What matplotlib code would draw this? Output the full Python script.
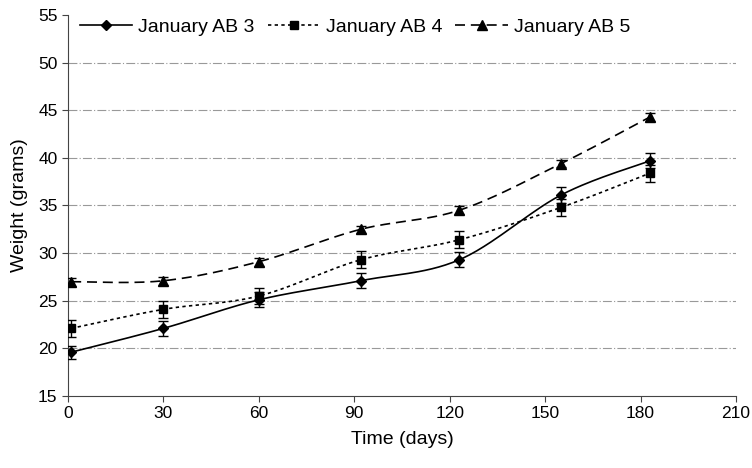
import numpy as np
import matplotlib
matplotlib.use("Agg")
import matplotlib.pyplot as plt
from matplotlib.lines import Line2D

plt.rcParams['font.family'] = ['Liberation Sans', 'DejaVu Sans']

days = [1, 30, 60, 92, 123, 155, 183]
ab3 = [19.6, 22.1, 25.1, 27.1, 29.3, 36.1, 39.7]
ab3_err = [0.7, 0.8, 0.8, 0.8, 0.8, 0.8, 0.8]
ab4 = [22.1, 24.1, 25.5, 29.3, 31.4, 34.8, 38.4]
ab4_err = [0.9, 0.9, 0.8, 0.9, 0.9, 0.9, 0.9]
ab5 = [27.0, 27.1, 29.1, 32.5, 34.5, 39.4, 44.3]
ab5_err = [0.4, 0.4, 0.4, 0.4, 0.4, 0.4, 0.4]
labels = ['January AB 3', 'January AB 4', 'January AB 5']
grid_levels = [20, 25, 30, 35, 40, 45, 50]


def smooth(x, y, n=30):
    x = np.asarray(x, float); y = np.asarray(y, float)
    px = np.concatenate([[x[0]], x, [x[-1]]])
    py = np.concatenate([[y[0]], y, [y[-1]]])
    xs, ys = [], []
    t = np.linspace(0, 1, n)
    for i in range(1, len(px) - 2):
        p0 = np.array([px[i], py[i]]); p3 = np.array([px[i + 1], py[i + 1]])
        c1 = p0 + (np.array([px[i + 1], py[i + 1]]) - np.array([px[i - 1], py[i - 1]])) / 6
        c2 = p3 - (np.array([px[i + 2], py[i + 2]]) - np.array([px[i], py[i]])) / 6
        b = ((1 - t) ** 3)[:, None] * p0 + (3 * (1 - t) ** 2 * t)[:, None] * c1 \
            + (3 * (1 - t) * t ** 2)[:, None] * c2 + (t ** 3)[:, None] * p3
        xs.extend(b[:, 0]); ys.extend(b[:, 1])
    return xs, ys


fig = plt.figure(figsize=(7.52, 4.68), dpi=100)
ax = fig.add_axes([0.0904, 0.1538, 0.8883, 0.8142])

for g in grid_levels:
    ax.axhline(g, color='#999999', lw=0.8, ls=(0, (8, 2, 1, 2)), zorder=1)

styles = [
    dict(marker='D', ls='-', dashes=None, ms=5),
    dict(marker='s', ls='--', dashes=(2, 2), ms=5.5),
    dict(marker='^', ls='--', dashes=(6, 3.5), ms=6.5),
]
series = [(ab3, ab3_err), (ab4, ab4_err), (ab5, ab5_err)]
handles = []
for (vals, err), st, lab in zip(series, styles, labels):
    sx, sy = smooth(days, vals)
    ln, = ax.plot(sx, sy, color='black', lw=1.2, ls=st['ls'], zorder=3)
    if st['dashes']:
        ln.set_dashes(st['dashes'])
    ax.errorbar(days, vals, yerr=err, fmt=st['marker'], color='black', ms=st['ms'],
                ecolor='black', elinewidth=1, capsize=3.6, capthick=1, zorder=4)
    h = Line2D([], [], color='black', lw=1.2, ls=st['ls'], marker=st['marker'], ms=st['ms'])
    if st['dashes']:
        h.set_dashes(st['dashes'])
    handles.append(h)

ax.set_xlim(0, 210)
ax.set_ylim(15, 55)
ax.set_xticks(range(0, 211, 30))
ax.set_yticks(range(15, 56, 5))
for s in ['top', 'right']:
    ax.spines[s].set_visible(False)
ax.spines['left'].set_color('#444444')
ax.spines['bottom'].set_color('#444444')
ax.tick_params(direction='out', length=4, labelsize=12.5, color='#444444')
ax.set_xlabel('Time (days)', fontsize=14, labelpad=7)
ax.set_ylabel('Weight (grams)', fontsize=14, labelpad=7)

leg = ax.legend(handles, labels, loc='upper left', ncol=3, frameon=False, fontsize=14,
                bbox_to_anchor=(0.006, 1.012), handlelength=2.7, handletextpad=0.3,
                columnspacing=0.67, borderaxespad=0)
leg.set_zorder(5)

fig.savefig('out.png', dpi=100)
